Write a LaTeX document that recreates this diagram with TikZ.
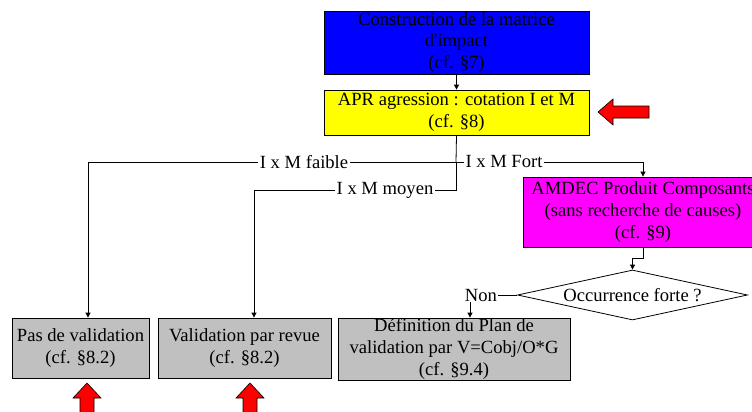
\documentclass[tikz,border=0pt]{standalone}
\usepackage{fontspec}
\setmainfont{Liberation Serif}
\usetikzlibrary{shapes.geometric,arrows.meta}
\definecolor{cblue}{RGB}{0,0,255}
\definecolor{cyel}{RGB}{255,255,0}
\definecolor{cmag}{RGB}{255,0,255}
\definecolor{cgray}{RGB}{192,192,192}
\definecolor{cred}{RGB}{255,0,0}
\tikzset{
 txt/.style={font=\fontsize{18.6}{21.7}\selectfont},
 box/.style={txt, draw=black, line width=0.8pt, inner sep=0pt, align=center},
 conn/.style={draw=black, line width=0.8pt},
 arr/.style={conn, -{Triangle[length=5pt,width=5pt]}},
 lbl/.style={txt, fill=white, inner sep=1.5pt},
 redarrow/.style={fill=cred, draw=black, line width=0.6pt}
}
\begin{document}
\begin{tikzpicture}[x=1pt,y=-1pt]
\useasboundingbox (0,0) rectangle (752,412);
\fill[white] (0,0) rectangle (752,412);
\clip (0,0) rectangle (752,412);
% boxes
\node[box, fill=cblue, minimum width=265, minimum height=63] (c) at (456.5,42.5) {Construction de la matrice\\d\textquotesingle impact\\(cf. §7)};
\node[box, fill=cyel, minimum width=265, minimum height=45] (y) at (456.5,112.5) {APR agression : cotation I et M\\(cf. §8)};
\node[box, fill=cmag, minimum width=240, minimum height=70] (a) at (643,212) {AMDEC Produit Composants\\(sans recherche de causes)\\(cf. §9)};
\node[box, diamond, aspect=4.6, fill=white, minimum width=230, minimum height=50] (occ) at (632.5,295) {Occurrence forte ?};
\node[box, fill=cgray, minimum width=137, minimum height=60] (p) at (80.5,348) {Pas de validation\\(cf. §8.2)};
\node[box, fill=cgray, minimum width=173, minimum height=60] (v) at (244.5,348) {Validation par revue\\(cf. §8.2)};
\node[box, fill=cgray, minimum width=232, minimum height=62] (d) at (454,349) {Définition du Plan de\\validation par V=Cobj/O*G\\(cf. §9.4)};
% connectors
\coordinate (j1) at (456,162);
\draw[arr] (c.south) -- (y.north);
\draw[conn] (y.south) -- (j1);
\draw[arr] (j1) -- (456,190) -| ([xshift=9.5]v.north);
\draw[arr] (j1) -- (88,162) -- ([xshift=7.5]p.north);
\draw[arr] (j1) -- (643,162) -- (a.north);
\draw[arr] (a.south) -- ++(0,11) -| (occ.north);
\node[lbl] at (304,162) {I x M faible};
\node[lbl] at (385,190) {I x M moyen};
\node[lbl] at (504,162) {I x M Fort};
\node[lbl, inner sep=1pt] (non) at (481,295) {Non};
\draw[conn] (occ.west) -- (non.east);
\draw[arr] ([xshift=-11]non.south) -- ([xshift=-11]non.south |- d.north);
% red arrows
\draw[redarrow] (598,112) -- (613,99) -- (613,106) -- (649,106) -- (649,118) -- (613,118) -- (613,125) -- cycle;
\draw[redarrow] (87,383) -- (101,398) -- (94,398) -- (94,420) -- (80,420) -- (80,398) -- (73,398) -- cycle;
\draw[redarrow] (250,383) -- (264,398) -- (257,398) -- (257,420) -- (243,420) -- (243,398) -- (236,398) -- cycle;
\end{tikzpicture}
\end{document}
